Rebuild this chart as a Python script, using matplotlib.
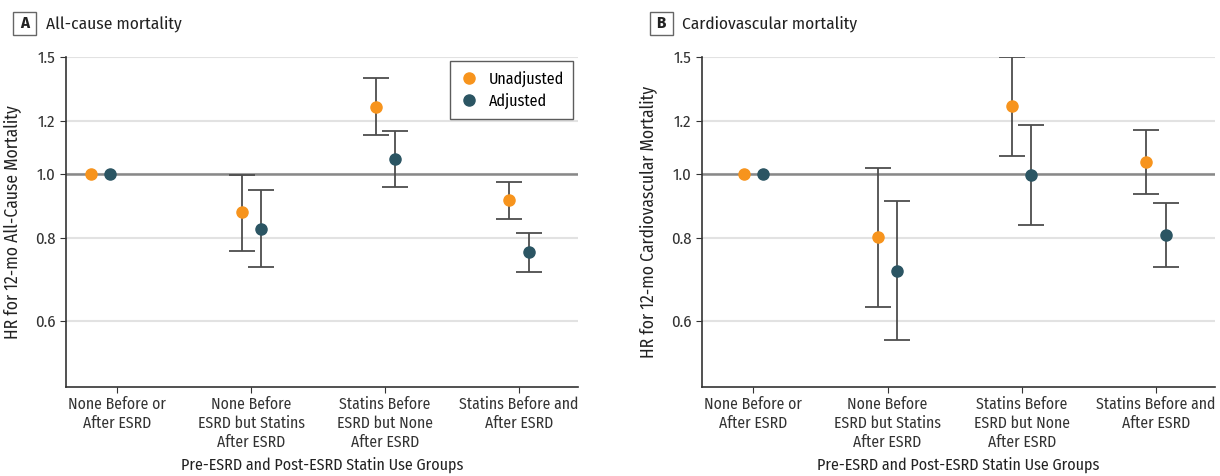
import numpy as np
import matplotlib
matplotlib.use("Agg")
import matplotlib.pyplot as plt
from matplotlib.patches import Rectangle

plt.rcParams['font.family'] = ['Fira Sans Condensed', 'DejaVu Sans']

groups = ["None Before or\nAfter ESRD",
          "None Before\nESRD but Statins\nAfter ESRD",
          "Statins Before\nESRD but None\nAfter ESRD",
          "Statins Before and\nAfter ESRD"]

# panel A: all-cause mortality
a_unadj = [1.0, 0.875, 1.260, 0.914]
a_unadj_lo = [np.nan, 0.765, 1.145, 0.855]
a_unadj_hi = [np.nan, 0.997, 1.391, 0.970]
a_adj = [1.0, 0.827, 1.051, 0.762]
a_adj_lo = [np.nan, 0.724, 0.954, 0.712]
a_adj_hi = [np.nan, 0.944, 1.160, 0.813]

# panel B: cardiovascular mortality
b_unadj = [1.0, 0.804, 1.263, 1.041]
b_unadj_lo = [np.nan, 0.630, 1.064, 0.933]
b_unadj_hi = [np.nan, 1.020, 1.496, 1.162]
b_adj = [1.0, 0.713, 0.994, 0.809]
b_adj_lo = [np.nan, 0.561, 0.838, 0.723]
b_adj_hi = [np.nan, 0.910, 1.183, 0.905]

yticks = [0.6, 0.8, 1.0, 1.2, 1.5]

ORANGE = "#F7941D"
TEAL = "#2B5563"


def draw_series(ax, x, vals, lo, hi, color):
    x = np.asarray(x, dtype=float)
    vals = np.asarray(vals)
    lo = np.asarray(lo)
    hi = np.asarray(hi)
    ok = ~np.isnan(lo)
    ax.errorbar(x[ok], vals[ok], yerr=[vals[ok] - lo[ok], hi[ok] - vals[ok]],
                fmt='none', ecolor="#4d4d4d", elinewidth=1.3, capsize=9.5,
                capthick=1.3, zorder=3)
    ax.plot(x, vals, 'o', color=color, markersize=8, zorder=4, linestyle='none')


def panel(ax, unadj, ulo, uhi, adj, alo, ahi, shift0, ylabel, legend=False):
    x = np.arange(len(groups), dtype=float)
    x[0] += shift0
    off = 0.072
    draw_series(ax, x - off, unadj, ulo, uhi, ORANGE)
    draw_series(ax, x + off, adj, alo, ahi, TEAL)
    ax.set_yscale('log')
    ax.set_ylim(0.478, 1.5)
    ax.set_xlim(-0.383, 3.44)
    ax.set_yticks(yticks)
    ax.set_yticklabels(["%.1f" % t for t in yticks], fontsize=12, color="#333333")
    ax.yaxis.set_minor_locator(matplotlib.ticker.NullLocator())
    ax.set_xticks(np.arange(len(groups)))
    ax.set_xticklabels(groups, fontsize=11.3, color="#333333", linespacing=1.22)
    ax.grid(axis='y', color="#e2e2e2", linewidth=1.5, zorder=0)
    ax.set_axisbelow(True)
    ax.axhline(1.0, color="#888888", linewidth=1.8, zorder=2)
    for s in ['top', 'right']:
        ax.spines[s].set_visible(False)
    for s in ['left', 'bottom']:
        ax.spines[s].set_color("#333333")
        ax.spines[s].set_linewidth(1.2)
    ax.tick_params(axis='both', length=4, color="#333333")
    ax.tick_params(axis='x', pad=3)
    ax.set_ylabel(ylabel, fontsize=12.6, color="#222222", labelpad=9)
    ax.set_xlabel("Pre-ESRD and Post-ESRD Statin Use Groups", fontsize=11.5,
                  color="#222222", labelpad=5)
    if legend:
        h1, = ax.plot([], [], 'o', color=ORANGE, markersize=8)
        h2, = ax.plot([], [], 'o', color=TEAL, markersize=8)
        leg = ax.legend([h1, h2], ["Unadjusted", "Adjusted"], loc='upper right',
                        fontsize=11.5, frameon=True, fancybox=False,
                        edgecolor="#333333", borderaxespad=0.3, handletextpad=0.6,
                        borderpad=0.6, labelspacing=0.35, handlelength=1.2)
        leg.get_frame().set_linewidth(1.0)


fig = plt.figure(figsize=(12.2, 4.76), dpi=100)
axA = fig.add_axes([0.0541, 0.1876, 0.4197, 0.6933])
axB = fig.add_axes([0.5754, 0.1876, 0.4205, 0.6933])

panel(axA, a_unadj, a_unadj_lo, a_unadj_hi, a_adj, a_adj_lo, a_adj_hi,
      -0.124, "HR for 12-mo All-Cause Mortality", legend=True)
panel(axB, b_unadj, b_unadj_lo, b_unadj_hi, b_adj, b_adj_lo, b_adj_hi,
      0.0, "HR for 12-mo Cardiovascular Mortality")

# panel letters in small boxes, then titles
for bx, letter, tx, title in [(0.0109, "A", 0.0375, "All-cause mortality"),
                              (0.5325, "B", 0.559, "Cardiovascular mortality")]:
    fig.patches.append(Rectangle((bx, 0.9271), 0.01885, 0.0471,
                                 transform=fig.transFigure, facecolor='white',
                                 edgecolor="#666666", linewidth=1.0))
    fig.text(bx + 0.01885 / 2, 0.9506, letter, fontsize=12, fontweight='bold',
             ha='center', va='center', color="#222222")
    fig.text(tx, 0.9506, title, fontsize=12.5, ha='left', va='center',
             color="#222222")

fig.savefig("out.png", dpi=100)
